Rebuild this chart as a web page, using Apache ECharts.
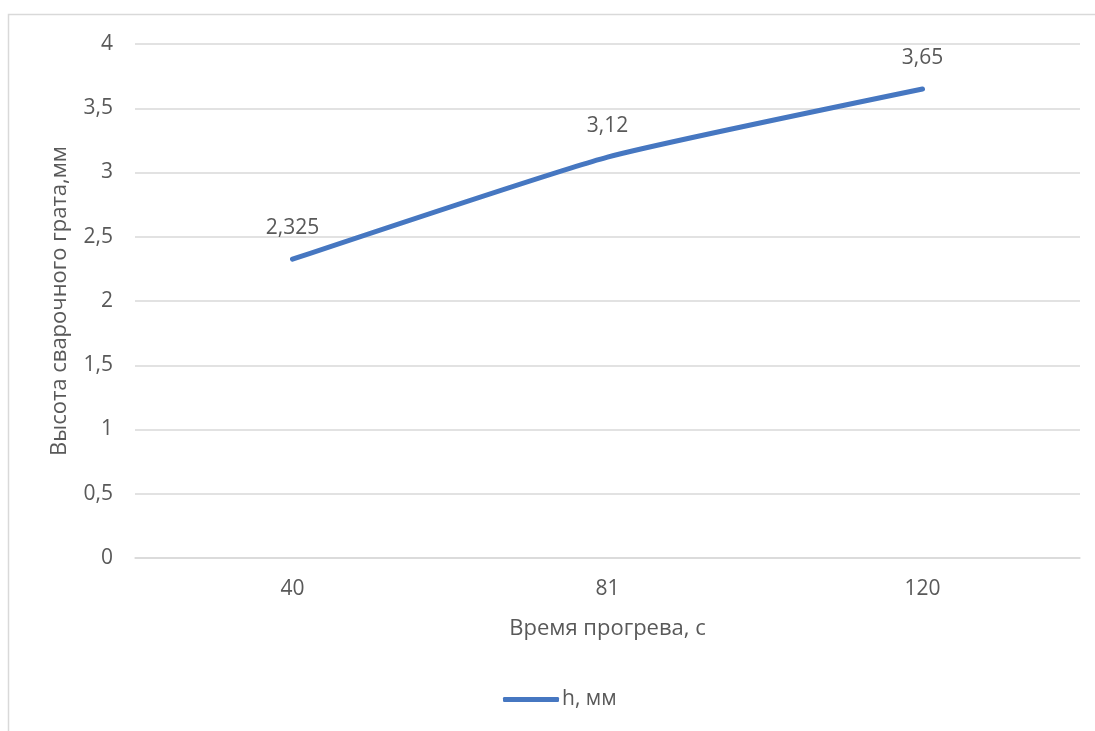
<!DOCTYPE html>
<html>
<head>
<meta charset="utf-8">
<script src="https://cdn.jsdelivr.net/npm/echarts@6/dist/echarts.min.js"></script>
<style>
  html, body { margin: 0; padding: 0; background: #ffffff; }
  #chart { width: 1095px; height: 731px; }
</style>
</head>
<body>
<div id="chart"></div>
<script>
// Heating time (s) and weld flash height (mm)
const categories = ['40', '81', '120'];
const heightValues = [2.325, 3.12, 3.65];
const seriesName = 'h, мм';
const xTitle = 'Время прогрева, с';
const yTitle = 'Высота сварочного грата,мм';

const FONT = '"Open Sans", sans-serif';
const TEXT = '#595959';
const GRID = '#d9d9d9';
const LINE = '#4677c1';

const comma = v => String(v).replace('.', ',');

const chart = echarts.init(document.getElementById('chart'));
chart.setOption({
  backgroundColor: '#ffffff',
  animation: false,
  textStyle: { fontFamily: FONT, color: TEXT },
  graphic: [{
    type: 'rect',
    shape: { x: 8.5, y: 14.5, width: 1200, height: 900 },
    style: { fill: 'none', stroke: GRID, lineWidth: 1.5 },
    silent: true, z: -1
  }],
  grid: { left: 135, right: 15, top: 44, bottom: 173, containLabel: false },
  legend: {
    data: [{ name: seriesName, itemStyle: { color: LINE } }],
    left: 498, top: 684,
    icon: 'roundRect',
    itemWidth: 56, itemHeight: 5,
    itemGap: 10,
    textStyle: { fontFamily: FONT, fontSize: 21, color: TEXT, padding: [0, 0, 0, -2] }
  },
  xAxis: {
    type: 'category',
    data: categories,
    boundaryGap: true,
    name: xTitle,
    nameLocation: 'middle',
    nameGap: 60,
    nameTextStyle: { fontFamily: FONT, fontSize: 22, color: TEXT },
    axisLine: { show: true, lineStyle: { color: GRID, width: 1.5 } },
    axisTick: { show: false },
    axisLabel: { margin: 21, fontFamily: FONT, fontSize: 21, color: TEXT }
  },
  yAxis: {
    type: 'value',
    min: 0, max: 4, interval: 0.5,
    name: yTitle,
    nameLocation: 'middle',
    nameGap: 64,
    nameTextStyle: { fontFamily: FONT, fontSize: 22, color: TEXT },
    axisLine: { show: false },
    axisTick: { show: false },
    axisLabel: { margin: 22, fontFamily: FONT, fontSize: 21, color: TEXT, formatter: comma },
    splitLine: { lineStyle: { color: GRID, width: 1.5 } }
  },
  series: [{
    name: seriesName,
    type: 'line',
    data: heightValues,
    smooth: 0.15,
    showSymbol: true,
    symbol: 'circle',
    symbolSize: 1,
    itemStyle: { color: LINE },
    lineStyle: { color: LINE, width: 5, cap: 'round', join: 'round' },
    label: {
      show: true,
      position: 'top',
      distance: 20,
      fontFamily: FONT, fontSize: 21, color: TEXT,
      formatter: p => comma(p.value)
    },
    labelLayout: { hideOverlap: false }
  }]
});
</script>
</body>
</html>
